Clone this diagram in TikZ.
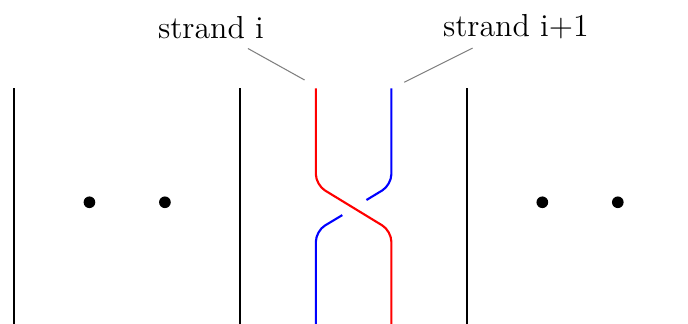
\documentclass[tikz,border=0pt]{standalone}
\usepackage{amsmath, amssymb}

\tikzset{
	wire/.style={thick},
	dot/.style={circle,fill,inner sep=0pt,minimum size=4.4pt},
	pointer/.style={gray,thin}
}

\begin{document}
\begin{tikzpicture}
				\useasboundingbox(-0.185,0)rectangle(8.93,4.28);
				% separating lines
				\foreach \x in {0,3,6}
					\draw[wire](\x,-0.1)--(\x,3.11);
				\foreach \x in {1,2,7,8}
					\node[dot](d\x)at(\x,1.6){};
				% the crossing
				\draw[wire,red,rounded corners](4,3.11)--(4,1.83)--(5,1.22)--(5,-0.1);
				\draw[wire,blue,rounded corners](5,3.11)--(5,1.83)--(4.67,1.63);
				\draw[wire,blue,rounded corners](4.35,1.43)--(4,1.22)--(4,-0.1);
				% labels
				\node[font=\large](si)at(2.61,3.91){strand i};
				\node[font=\large](sj)at(6.65,3.93){strand i+1};
				\coordinate(ti)at(3.85,3.22);
				\coordinate(tj)at(5.17,3.19);
				\draw[pointer](si)--(ti);
				\draw[pointer](sj)--(tj);
			\end{tikzpicture}
\end{document}
